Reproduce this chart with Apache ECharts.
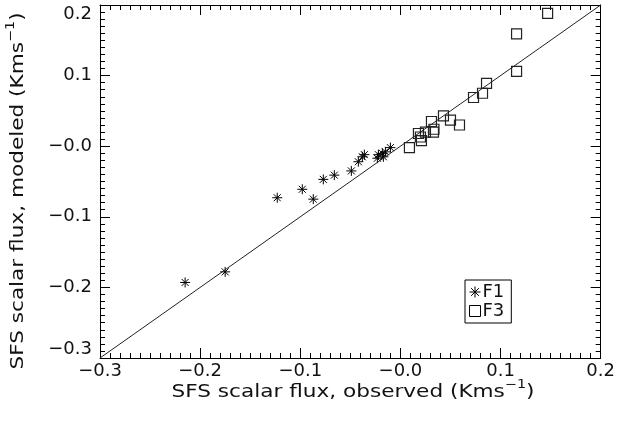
<!DOCTYPE html>
<html>
<head>
<meta charset="utf-8">
<script src="https://cdn.jsdelivr.net/npm/echarts@6/dist/echarts.min.js"></script>
<style>html,body{margin:0;padding:0;background:#fff;}#c{width:618px;height:425px;}</style>
</head>
<body>
<div id="c"></div>
<script>
// Series F1 (asterisks): observed, modeled
const f1Observed = [-0.215, -0.175, -0.123, -0.098, -0.087, -0.077, -0.066, -0.049, -0.042, -0.038, -0.036, -0.023, -0.022, -0.018, -0.015, -0.017, -0.010];
const f1Modeled  = [-0.193, -0.178, -0.073, -0.061, -0.075, -0.047, -0.041, -0.035, -0.022, -0.015, -0.012, -0.017, -0.012, -0.010, -0.008, -0.015, -0.002];
// Series F3 (squares)
const f3Observed = [0.147, 0.116, 0.116, 0.086, 0.082, 0.073, 0.043, 0.050, 0.059, 0.031, 0.0335, 0.033, 0.025, 0.018, 0.020, 0.021, 0.009];
const f3Modeled  = [0.188, 0.159, 0.106, 0.089, 0.075, 0.069, 0.043, 0.037, 0.030, 0.035, 0.024, 0.020, 0.020, 0.018, 0.013, 0.008, -0.002];
// 1:1 reference line ends
const diagEnds = [-0.3, 0.2];
// Tick labels
const tickValues = [-0.3, -0.2, -0.1, 0.0, 0.1, 0.2];
const tickLabels = ['\u22120.3', '\u22120.2', '\u22120.1', '\u22120.0', '0.1', '0.2'];

function lab(v) {
  let best = 0, d = 1e9;
  tickValues.forEach((t, i) => { const dd = Math.abs(t - v); if (dd < d) { d = dd; best = i; } });
  return tickLabels[best];
}

const FONT = 'DejaVu Sans';
const TXT = '#111';
const chart = echarts.init(document.getElementById('c'), null, {renderer: 'canvas'});

const baseAxis = {
  type: 'value', min: -0.3, max: 0.2, interval: 0.1,
  axisLine: {show: true, onZero: false, lineStyle: {color: '#000', width: 1}},
  axisTick: {show: true, inside: true, length: 10, lineStyle: {color: '#000', width: 1}},
  minorTick: {show: true, splitNumber: 10, length: 5, lineStyle: {color: '#000', width: 1}},
  splitLine: {show: false},
  minorSplitLine: {show: false}
};

const asterisk = 'path://M5,0L5,10M0,5L10,5M1.5,1.5L8.5,8.5M8.5,1.5L1.5,8.5';
const titleRich = {
  n: {fontFamily: FONT, fontSize: 18, fill: TXT, color: TXT, lineHeight: 22, verticalAlign: 'bottom'},
  s: {fontFamily: FONT, fontSize: 12, fill: TXT, color: TXT, lineHeight: 22, verticalAlign: 'top'}
};

chart.setOption({
  animation: false,
  backgroundColor: '#fff',
  grid: {left: 100, right: 15, top: 5, bottom: 67, containLabel: false},
  xAxis: [
    Object.assign({}, baseAxis, {
      position: 'bottom',
      axisLabel: {show: true, margin: 4, color: TXT, fontFamily: FONT, fontSize: 18, formatter: lab}
    }),
    Object.assign({}, baseAxis, {position: 'top', axisLabel: {show: false}})
  ],
  yAxis: [
    Object.assign({}, baseAxis, {
      position: 'left',
      axisLabel: {show: true, margin: 8, color: TXT, fontFamily: FONT, fontSize: 18, formatter: lab,
        verticalAlignMaxLabel: 'top', verticalAlignMinLabel: 'bottom'}
    }),
    Object.assign({}, baseAxis, {position: 'right', axisLabel: {show: false}})
  ],
  legend: {
    orient: 'vertical', left: 465, top: 280,
    padding: [3, 7, 3, 4], itemGap: 1, itemWidth: 11, itemHeight: 11,
    borderColor: '#000', borderWidth: 1, borderRadius: 0,
    textStyle: {color: TXT, fontFamily: FONT, fontSize: 18, padding: [0, 0, 0, -3]},
    data: [
      {name: 'F1', icon: asterisk, itemStyle: {color: 'rgba(0,0,0,0)', borderColor: '#000', borderWidth: 1}},
      {name: 'F3', icon: 'rect', itemStyle: {color: 'rgba(0,0,0,0)', borderColor: '#000', borderWidth: 1}}
    ]
  },
  graphic: [
    {
      type: 'text', x: 353, y: 390, scaleX: 1.2,
      style: {
        text: '{n|SFS scalar flux, observed (Kms}{s|\u22121}{n|)}',
        align: 'center', verticalAlign: 'middle',
        rich: titleRich
      }
    },
    {
      type: 'text', x: 16, y: 191, rotation: Math.PI / 2, scaleX: 1.2,
      style: {
        text: '{n|SFS scalar flux, modeled (Kms}{s|\u22121}{n|)}',
        align: 'center', verticalAlign: 'middle',
        rich: titleRich
      }
    }
  ],
  series: [
    {
      type: 'line', name: 'diag', xAxisIndex: 0, yAxisIndex: 0,
      data: diagEnds.map(v => [v, v]), showSymbol: false, symbol: 'none',
      lineStyle: {color: '#222', width: 1}, silent: true
    },
    {
      type: 'scatter', name: 'F1', xAxisIndex: 0, yAxisIndex: 0,
      data: f1Observed.map((x, i) => [x, f1Modeled[i]]),
      symbol: asterisk, symbolSize: 10,
      itemStyle: {color: 'rgba(0,0,0,0)', borderColor: '#000', borderWidth: 1, opacity: 1}
    },
    {
      type: 'scatter', name: 'F3', xAxisIndex: 0, yAxisIndex: 0,
      data: f3Observed.map((x, i) => [x, f3Modeled[i]]),
      symbol: 'rect', symbolSize: 10,
      itemStyle: {color: 'rgba(0,0,0,0)', borderColor: '#222', borderWidth: 1.2, opacity: 1}
    }
  ]
});
</script>
</body>
</html>
